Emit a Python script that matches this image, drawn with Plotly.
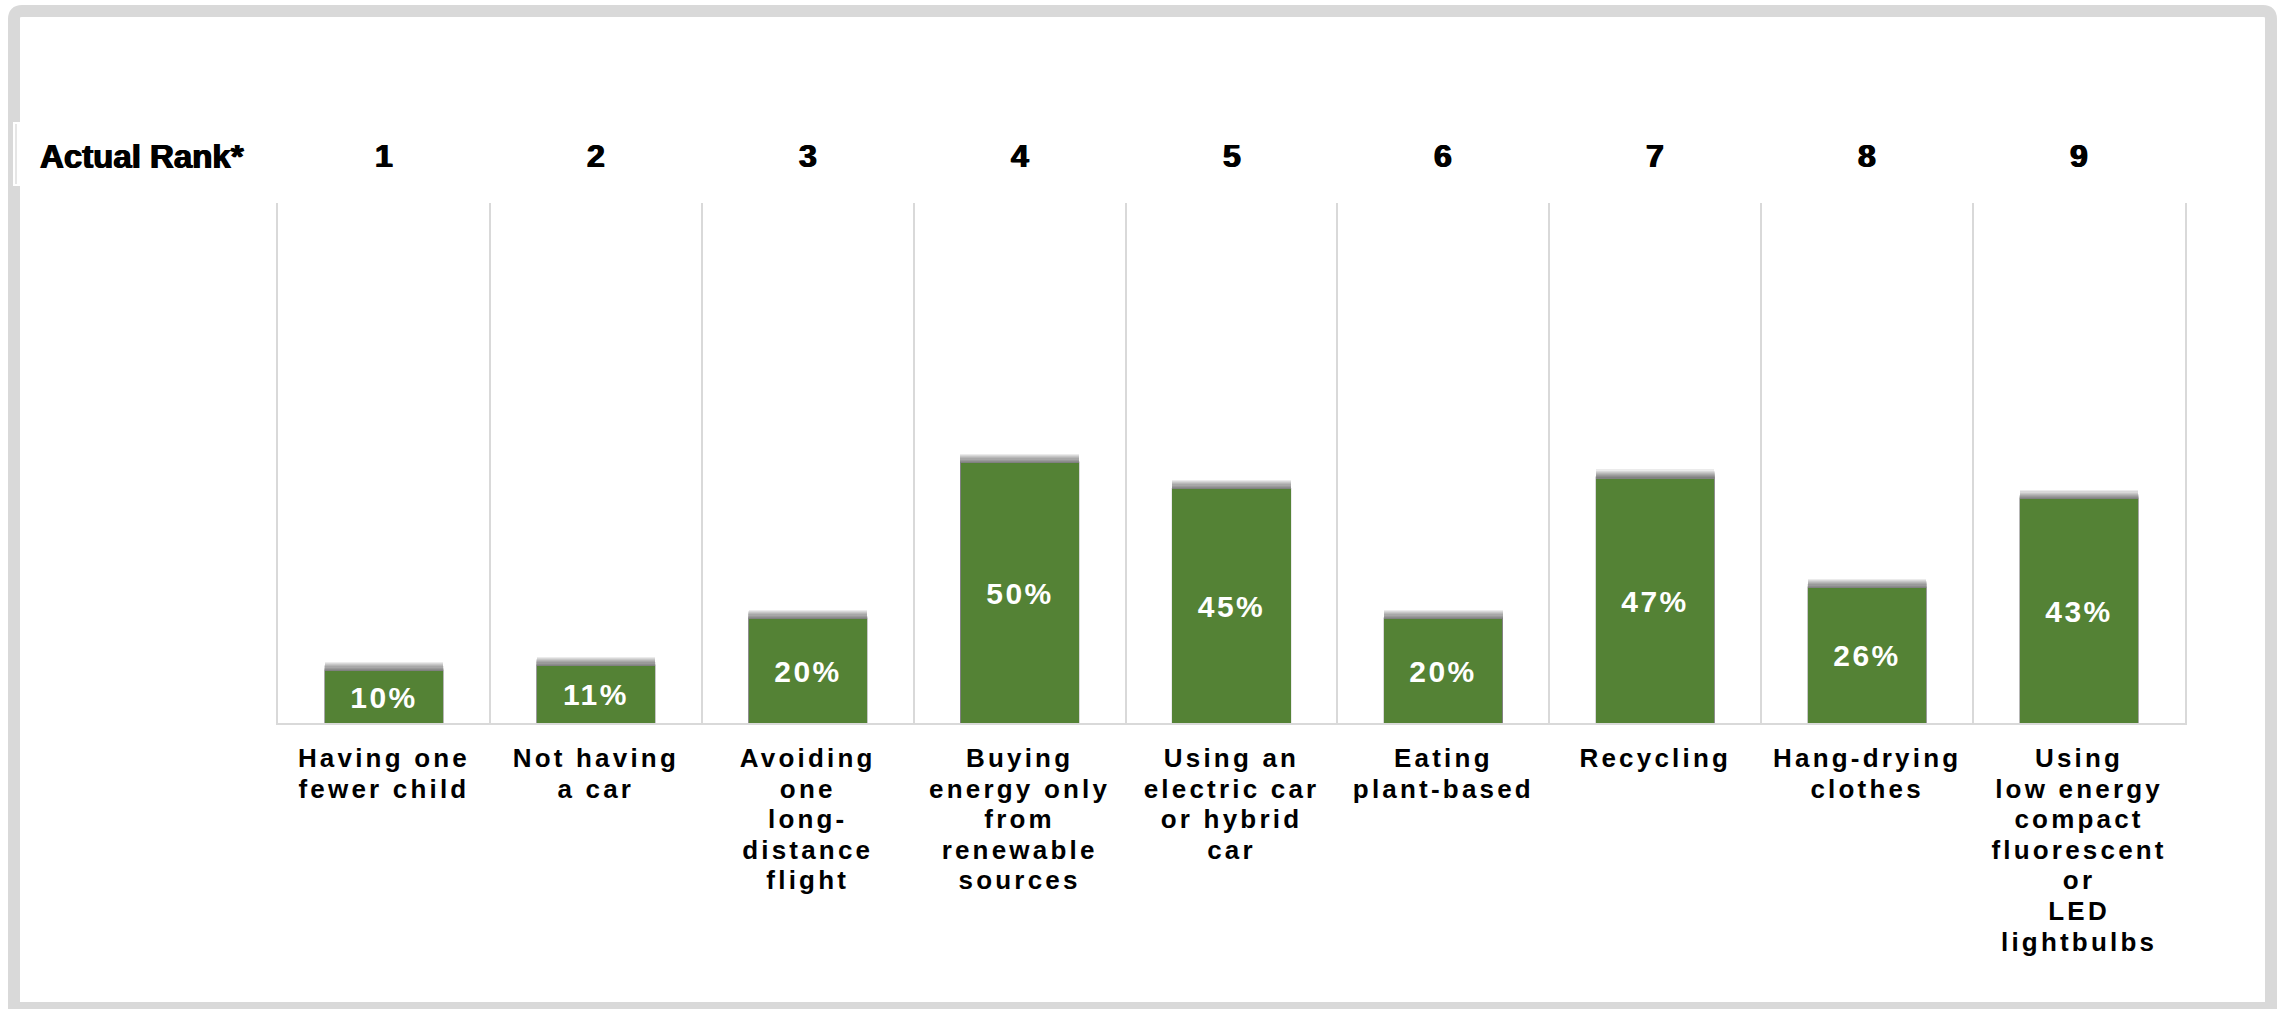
import plotly.graph_objects as go

# Share of respondents per climate action, ordered by actual emission-reduction rank
actions = [
    "Having one<br>fewer child",
    "Not having<br>a car",
    "Avoiding<br>one<br>long-<br>distance<br>flight",
    "Buying<br>energy only<br>from<br>renewable<br>sources",
    "Using an<br>electric car<br>or hybrid<br>car",
    "Eating<br>plant-based",
    "Recycling",
    "Hang-drying<br>clothes",
    "Using<br>low energy<br>compact<br>fluorescent<br>or<br>LED<br>lightbulbs",
]
shares = [0.10, 0.11, 0.20, 0.50, 0.45, 0.20, 0.47, 0.26, 0.43]
ranks = ["1", "2", "3", "4", "5", "6", "7", "8", "9"]
rank_title = "Actual Rank*"

W, H = 2282, 1009
L, R, T, B = 278, 2185, 203, 723
FONT = "Arial, 'Liberation Sans', sans-serif"
GREEN = "#548235"
GREY = "#d9d9d9"
BAR_W = 0.557


def px_x(p):
    return (p - L) / (R - L)


def px_y(p):
    return (B - p) / (B - T)


fig = go.Figure()

# soft drop shadow above each bar: stacked translucent layers
for k in range(1, 9):
    fig.add_bar(
        x=actions,
        y=[v + 0.0022 * k for v in shares],
        width=BAR_W + 0.0012 * (9 - k),
        marker=dict(color="rgba(0,0,0,0.08)", line=dict(width=0)),
        hoverinfo="skip",
        showlegend=False,
    )

fig.add_bar(
    x=actions,
    y=shares,
    width=BAR_W,
    marker=dict(color=GREEN, line=dict(width=0)),
    texttemplate="%{y:.0%}",
    textposition="inside",
    insidetextanchor="middle",
    textangle=0,
    textfont=dict(family=FONT, size=30, color="white", weight="bold"),
    showlegend=False,
)

annotations = [
    dict(
        x=a, y=1, xref="x", yref="paper", text=r, showarrow=False,
        yanchor="middle", yshift=47,
        font=dict(family=FONT, size=32, color="black", weight="bold",
                  shadow="0.7px 0 0 black, -0.7px 0 0 black"),
    )
    for a, r in zip(actions, ranks)
]
annotations.append(
    dict(
        x=px_x(38), y=1, xref="paper", yref="paper", text=rank_title,
        showarrow=False, xanchor="left", yanchor="middle", yshift=47,
        font=dict(family=FONT, size=33, color="black", weight="bold",
                  shadow="0.7px 0 0 black, -0.7px 0 0 black"),
    )
)

# outer rounded frame
fx0, fx1, fy0, fy1, rr = 14, 2271, 11, 1008, 8
frame_path = (
    f"M {px_x(fx0)},{px_y(fy1)} L {px_x(fx0)},{px_y(fy0 + rr)} "
    f"Q {px_x(fx0)},{px_y(fy0)} {px_x(fx0 + rr)},{px_y(fy0)} "
    f"L {px_x(fx1 - rr)},{px_y(fy0)} "
    f"Q {px_x(fx1)},{px_y(fy0)} {px_x(fx1)},{px_y(fy0 + rr)} "
    f"L {px_x(fx1)},{px_y(fy1)} Z"
)
shapes = [
    dict(type="path", xref="paper", yref="paper", path=frame_path,
         line=dict(color=GREY, width=12), fillcolor="rgba(0,0,0,0)", layer="below"),
    dict(type="rect", xref="paper", yref="paper",
         x0=px_x(13), x1=px_x(21), y0=px_y(186), y1=px_y(122),
         fillcolor="white", line=dict(width=0), layer="below"),
    dict(type="line", xref="paper", yref="paper",
         x0=px_x(16), x1=px_x(16), y0=px_y(184), y1=px_y(124),
         line=dict(color="#e6e6e6", width=2), layer="below"),
]

fig.update_layout(
    width=W,
    height=H,
    margin=dict(l=L, r=W - R, t=T, b=H - B, pad=0),
    barmode="overlay",
    bargap=0,
    paper_bgcolor="white",
    plot_bgcolor="white",
    font=dict(family=FONT, color="black"),
    annotations=annotations,
    shapes=shapes,
    xaxis=dict(
        type="category",
        tickson="boundaries",
        showgrid=True,
        gridcolor=GREY,
        gridwidth=2,
        showline=True,
        linecolor=GREY,
        linewidth=2,
        ticks="",
        ticklabelstandoff=11,
        tickfont=dict(family=FONT, size=26, color="black", weight="bold"),
        range=[-0.5, 8.5],
        fixedrange=True,
    ),
    yaxis=dict(
        range=[0, 1],
        showgrid=False,
        zeroline=False,
        showticklabels=False,
        showline=True,
        mirror=True,
        linecolor=GREY,
        linewidth=2,
        fixedrange=True,
    ),
)

# letter tracking and line pitch for the category labels
post = """
var st = document.createElement('style');
st.textContent = '.xtick text{letter-spacing:3.2px} text.bartext{letter-spacing:2.5px}';
document.head.appendChild(st);
document.querySelectorAll('.xtick text tspan.line').forEach(function(t){
  if (t.getAttribute('data-pitch')) { return; }
  var d = parseFloat(t.getAttribute('dy') || '0');
  t.setAttribute('dy', (d / 1.3 * 1.175) + 'em');
  t.setAttribute('data-pitch', '1');
});
"""

fig.write_html("out.html", config={"displayModeBar": False}, post_script=post)
